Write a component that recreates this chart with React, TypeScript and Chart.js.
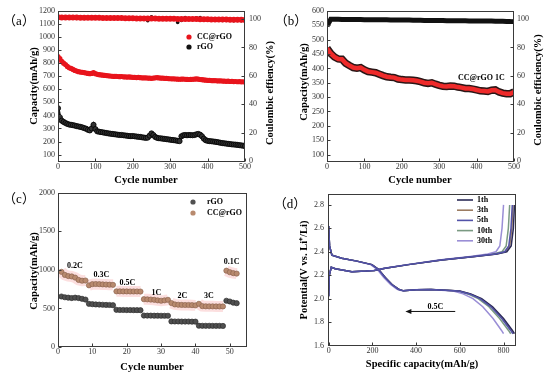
import React, { useEffect, useRef } from "react";
import { Chart, registerables } from "chart.js";
Chart.register(...registerables);

const SERIF = "'Liberation Serif', 'Times New Roman', serif";
const LABEL_FONT = "'Liberation Serif', 'Noto Sans CJK SC', serif";

// ---------- Panel (a): cycling of CC@rGO and rGO ----------
const aCycles = [0,5,10,15,20,25,30,35,40,45,50,55,60,65,70,75,80,85,90,95,100,105,110,115,120,125,130,135,140,145,150,155,160,165,170,175,180,185,190,195,200,205,210,215,220,225,230,235,240,245,250,255,260,265,270,275,280,285,290,295,300,305,310,315,320,325,330,335,340,345,350,355,360,365,370,375,380,385,390,395,400,405,410,415,420,425,430,435,440,445,450,455,460,465,470,475,480,485,490,495,500];
const aCcCapacity = [850,835,815,800,790,775,765,760,752,745,740,735,732,730,728,725,722,720,722,728,720,715,712,710,708,706,705,703,702,700,699,700,698,697,698,696,695,694,695,693,692,691,690,691,689,688,687,688,686,685,684,686,688,690,687,686,685,684,683,682,681,680,680,679,678,677,678,679,677,676,675,676,677,678,680,678,675,674,672,670,669,668,667,666,667,665,664,665,663,662,661,662,660,661,659,660,658,659,657,658,656];
const aRgoCapacity = [455,385,360,350,342,335,330,328,325,322,318,315,312,308,303,298,290,285,300,328,295,278,275,272,270,267,265,262,260,258,256,254,252,250,250,248,246,244,242,241,242,240,238,236,235,232,230,228,230,245,262,250,235,228,225,224,222,220,218,216,214,212,210,208,205,203,240,248,250,248,250,249,248,250,255,258,252,240,222,210,205,203,202,200,198,196,193,190,188,186,184,182,180,178,177,176,174,172,170,168,165];
const aCeCycles = [0,10,20,30,40,50,60,70,80,90,100,110,120,130,140,150,160,170,180,190,200,210,220,230,240,250,260,270,280,290,300,310,320,330,340,350,360,370,380,390,400,410,420,430,440,450,460,470,480,490,500];
const aCcEfficiency = [101.2,101.1,101.1,101.0,101.0,101.0,100.9,100.9,100.9,100.8,100.8,100.8,100.7,100.7,100.7,100.6,100.6,100.6,100.5,100.5,100.5,100.4,100.4,100.4,100.3,100.3,100.3,100.2,100.2,100.2,100.1,100.1,100.0,100.0,100.0,99.9,99.9,99.9,99.8,99.8,99.8,99.7,99.7,99.7,99.6,99.6,99.5,99.5,99.4,99.4,99.3];
const aRgoEfficiency = [100.8,100.5,100.6,100.5,100.6,100.4,100.5,100.4,100.5,101.6,100.5,100.4,100.5,100.4,100.4,100.3,100.4,100.3,100.3,100.2,100.3,100.2,100.2,100.1,98.8,101.6,100.1,100.0,100.0,99.9,99.9,99.8,97.6,99.0,101.0,99.8,99.7,100.9,101.0,99.6,99.4,99.3,99.3,99.2,99.0,99.0,98.9,98.8,98.9,98.8,98.9];

// ---------- Panel (b): CC@rGO at 1C ----------
const bCycles = [0,10,20,30,40,50,60,70,80,90,100,110,120,130,140,150,160,170,180,190,200,210,220,230,240,250,260,270,280,290,300,310,320,330,340,350,360,370,380,390,400,410,420,430,440,450,460,470,480,490,500];
const bCapacity = [470,452,440,433,432,418,410,403,401,403,395,389,387,385,380,375,371,369,368,363,361,360,360,359,357,354,350,348,350,345,341,338,337,339,338,335,333,330,330,328,325,322,321,320,324,325,318,314,312,312,318];
const bEfficiency = [95.0,99.8,99.8,99.8,99.7,99.7,99.7,99.6,99.6,99.6,99.5,99.5,99.5,99.5,99.4,99.4,99.4,99.3,99.3,99.3,99.2,99.2,99.2,99.1,99.1,99.1,99.0,99.0,99.0,98.9,98.9,98.9,98.8,98.8,98.8,98.7,98.7,98.7,98.6,98.6,98.6,98.5,98.5,98.5,98.5,98.4,98.4,98.4,98.3,98.3,98.3];

// ---------- Panel (c): rate capability ----------
const cCycles = [1,2,3,4,5,6,7,8,9,10,11,12,13,14,15,16,17,18,19,20,21,22,23,24,25,26,27,28,29,30,31,32,33,34,35,36,37,38,39,40,41,42,43,44,45,46,47,48,49,50,51,52];
const cRgo = [655,645,640,635,640,635,625,615,560,555,552,550,548,546,545,542,482,480,480,479,479,478,478,477,408,407,407,406,406,405,405,405,332,331,331,330,330,330,329,329,276,275,275,275,274,274,274,273,600,590,575,568];
const cCc = [975,935,920,915,900,870,860,862,800,815,817,815,812,810,808,806,722,722,721,721,720,720,720,719,620,618,615,612,605,600,605,612,570,552,548,546,545,545,543,540,560,530,528,527,527,526,526,526,990,970,958,952];
const cRateLabels = ["0.2C", "0.3C", "0.5C", "1C", "2C", "3C", "0.1C"];
const cRateX = [4.9, 12.6, 20.2, 28.6, 36.2, 43.9, 50.5];
const cRateY = [1054, 934, 831, 702, 667, 667, 1106];

// ---------- Panel (d): charge / discharge profiles ----------
const dCycleLabels = ["1th", "3th", "5th", "10th", "30th"];
const dDischargeV = [2.62,2.45,2.37,2.345,2.32,2.29,2.25,2.18,2.12,2.08,2.066,2.075,2.078,2.07,2.064,2.04,2.0,1.93,1.83,1.73,1.70];
const dDischarge1 = [0,4,15,60,130,198,228,259,290,320,343,400,470,560,600,650,700,750,800,840,850];
const dDischarge3 = [0,4,15,60,130,198,228,259,290,320,343,400,470,558,597,646,695,745,795,835,846];
const dDischarge5 = [0,4,15,60,130,197,227,258,289,319,342,400,468,555,594,643,692,742,792,832,843];
const dDischarge10 = [0,4,15,60,128,196,226,257,288,318,341,398,465,550,588,636,684,733,782,822,833];
const dDischarge30 = [0,4,14,58,125,192,222,252,283,313,336,390,455,535,570,615,660,705,752,790,800];
const dChargeV = [2.02,2.2,2.267,2.255,2.23,2.235,2.24,2.26,2.29,2.33,2.36,2.38,2.40,2.45,2.6,2.8];
const dCharge1 = [0,3,12,30,107,170,210,259,366,518,670,770,815,835,845,850];
const dCharge3 = [0,3,12,30,107,170,210,259,366,518,668,766,808,828,838,843];
const dCharge5 = [0,3,12,30,106,169,209,258,364,516,666,763,805,824,834,840];
const dCharge10 = [0,3,12,30,105,168,208,257,362,512,660,750,793,812,822,828];
const dCharge30 = [0,3,12,30,104,166,205,253,358,505,648,728,765,783,793,800];
const dColors = ["#2c2c58", "#9c7c62", "#5252a8", "#7a9a82", "#9a8ed6"];
const dArrowFrom = 579;
const dArrowTo = 351;
const dArrowV = 1.89;

// ---------- helpers ----------
const pts = (xs: number[], ys: number[]) => xs.map((x, i) => ({ x, y: ys[i] }));

function text(ctx: CanvasRenderingContext2D, s: string, x: number, y: number, size: number, bold: boolean, align: CanvasTextAlign = "left", rot = 0, family = SERIF, color = "#000") {
  ctx.save();
  ctx.translate(x, y);
  if (rot) ctx.rotate(rot);
  ctx.font = `${bold ? "bold " : ""}${size}px ${family}`;
  ctx.fillStyle = color;
  ctx.textAlign = align;
  ctx.textBaseline = "middle";
  ctx.fillText(s, 0, 0);
  ctx.restore();
}

function dot(ctx: CanvasRenderingContext2D, x: number, y: number, r: number, fill: string) {
  ctx.beginPath();
  ctx.arc(x, y, r, 0, Math.PI * 2);
  ctx.fillStyle = fill;
  ctx.fill();
}

type Deco = (ctx: CanvasRenderingContext2D, chart: any, ox: number, oy: number) => void;

function framePlugin(ox: number, oy: number, deco: Deco) {
  return {
    id: "frame",
    afterDraw(chart: any) {
      const { ctx, chartArea: a } = chart;
      ctx.save();
      ctx.strokeStyle = "#3a3a3a";
      ctx.lineWidth = 1;
      const L = Math.round(a.left) + 0.5, R = Math.round(a.right) - 0.5;
      const T = Math.round(a.top) + 0.5, B = Math.round(a.bottom) - 0.5;
      ctx.strokeRect(L, T, R - L, B - T);
      Object.values(chart.scales).forEach((s: any) => {
        s.ticks.forEach((t: any) => {
          const p = Math.round(s.getPixelForValue(t.value)) + 0.5;
          ctx.beginPath();
          if (s.axis === "x") { ctx.moveTo(p, B); ctx.lineTo(p, B - 3); }
          else if (s.position === "left") { ctx.moveTo(L, p); ctx.lineTo(L + 3, p); }
          else { ctx.moveTo(R, p); ctx.lineTo(R - 3, p); }
          ctx.stroke();
        });
      });
      ctx.translate(-ox, -oy);
      deco(ctx, chart, ox, oy);
      ctx.restore();
    },
  };
}

function lin(min: number, max: number, step: number, position: string, size: number, padding: number, fmt: (v: number) => string = (v) => String(v)) {
  const horiz = position === "bottom";
  return {
    type: "linear",
    position,
    min,
    max,
    grid: { display: false, drawTicks: false },
    border: { display: false },
    title: { display: false },
    ticks: {
      stepSize: step,
      includeBounds: false,
      autoSkip: false,
      maxRotation: 0,
      padding,
      color: "#333",
      font: { size: 8, family: SERIF },
      callback: (v: number) => fmt(v),
    },
    afterFit: (s: any) => {
      if (horiz) s.height = size;
      else s.width = size;
    },
  };
}

function baseOptions(scales: any, padding: any) {
  return {
    responsive: false,
    maintainAspectRatio: false,
    animation: false,
    events: [],
    layout: { padding },
    plugins: { legend: { display: false }, tooltip: { enabled: false } },
    elements: { line: { tension: 0 } },
    scales,
  };
}

const TITLE = 10.5;
const HALF_PI = Math.PI / 2;

// ---------- chart configs ----------
function configA(): any {
  const ox = 0, oy = 0;
  return {
    type: "line",
    data: {
      datasets: [
        { data: pts(aCycles, aCcCapacity), yAxisID: "y", borderColor: "#e8141c", backgroundColor: "#e8141c", borderWidth: 3, pointRadius: 2.6, pointBorderWidth: 0 },
        { data: pts(aCycles, aRgoCapacity), yAxisID: "y", borderColor: "#111", backgroundColor: "#333", borderWidth: 3, pointRadius: 2.6, pointBorderWidth: 0.8, pointBorderColor: "#000" },
        { data: pts(aCeCycles, aCcEfficiency), yAxisID: "y1", borderColor: "#e8141c", backgroundColor: "#e8141c", borderWidth: 4, pointRadius: 3, pointBorderWidth: 0 },
        { data: pts(aCeCycles, aRgoEfficiency), yAxisID: "y1", showLine: false, backgroundColor: "#111", borderColor: "#111", pointRadius: 1.8, pointBorderWidth: 0 },
      ],
    },
    options: baseOptions(
      {
        x: lin(0, 500, 100, "bottom", 28, 0),
        y: lin(43, 1200, 100, "left", 58, 3),
        y1: lin(-0.5, 105.6, 20, "right", 32, 4),
      },
      { top: 11, left: 0, right: 0, bottom: 0 }
    ),
    plugins: [
      framePlugin(ox, oy, (ctx) => {
        text(ctx, "（a）", 19, 22, 13, false, "center", 0, LABEL_FONT);
        text(ctx, "Capacity(mAh/g)", 34, 86, TITLE, true, "center", -HALF_PI);
        text(ctx, "Coulombic effiency(%)", 270, 93, TITLE, true, "center", -HALF_PI);
        text(ctx, "Cycle number", 146, 180, TITLE, true, "center");
        dot(ctx, 189, 37, 2.6, "#e8141c");
        text(ctx, "CC@rGO", 197, 37, 8, true);
        dot(ctx, 189, 47, 2.6, "#111");
        text(ctx, "rGO", 197, 47, 8, true);
      }),
    ],
  };
}

function configB(): any {
  const ox = 275, oy = 0;
  return {
    type: "line",
    data: {
      datasets: [
        { data: pts(bCycles, bCapacity), yAxisID: "y", borderColor: "#ee2a2a", borderWidth: 4.5, pointRadius: 0 },
        { data: pts(bCycles, bCapacity), yAxisID: "y", borderColor: "#2a1616", borderWidth: 7.5, pointRadius: 0 },
        { data: pts(bCycles, bEfficiency), yAxisID: "y1", borderColor: "#111", borderWidth: 5, pointRadius: 0 },
      ],
    },
    options: baseOptions(
      {
        x: lin(0, 500, 100, "bottom", 28, 0),
        y: lin(74, 600, 50, "left", 52, 3),
        y1: lin(-0.5, 105.6, 20, "right", 36, 3),
      },
      { top: 11, left: 0, right: 0, bottom: 0 }
    ),
    plugins: [
      framePlugin(ox, oy, (ctx) => {
        text(ctx, "（b）", 291, 22, 13, false, "center", 0, LABEL_FONT);
        text(ctx, "Capacity(mAh/g)", 304, 82, TITLE, true, "center", -HALF_PI);
        text(ctx, "Coulombic efficiency(%)", 538, 90, TITLE, true, "center", -HALF_PI);
        text(ctx, "Cycle number", 420, 180, TITLE, true, "center");
        text(ctx, "CC@rGO 1C", 458, 78, 8, true);
      }),
    ],
  };
}

function configC(): any {
  const ox = 0, oy = 185;
  const pink = "rgba(248,170,170,0.38)";
  return {
    type: "line",
    data: {
      datasets: [
        { data: pts(cCycles, cRgo), showLine: false, pointRadius: 2.6, backgroundColor: "#505050", borderColor: "#2e2e2e", pointBorderWidth: 0.7 },
        { data: pts(cCycles, cCc), showLine: false, pointRadius: 2.6, backgroundColor: "#b88a6e", borderColor: "#8e6450", pointBorderWidth: 0.7 },
        {
          data: pts(cCycles, cCc), pointRadius: 0, borderWidth: 11, borderColor: pink,
          segment: { borderColor: (c: any) => (c.p1DataIndex % 8 === 0 ? "rgba(0,0,0,0)" : pink) },
        },
      ],
    },
    options: baseOptions(
      {
        x: lin(0, 55, 10, "bottom", 31, 0),
        y: lin(0, 2000, 500, "left", 58, 3),
      },
      { top: 7, left: 0, right: 28, bottom: 0 }
    ),
    plugins: [
      framePlugin(ox, oy, (ctx, chart) => {
        text(ctx, "（c）", 19, 200, 13, false, "center", 0, LABEL_FONT);
        text(ctx, "Capacity(mAh/g)", 34, 271, TITLE, true, "center", -HALF_PI);
        text(ctx, "Cycle number", 152, 367, TITLE, true, "center");
        dot(ctx, 193, 202, 2.6, "#505050");
        text(ctx, "rGO", 207, 202, 8, true);
        dot(ctx, 193, 213, 2.6, "#b88a6e");
        text(ctx, "CC@rGO", 207, 213, 8, true);
        const sx = chart.scales.x, sy = chart.scales.y;
        cRateLabels.forEach((lab, i) => {
          text(ctx, lab, sx.getPixelForValue(cRateX[i]) + ox, sy.getPixelForValue(cRateY[i]) + oy, 8, true, "center");
        });
      }),
    ],
  };
}

function configD(): any {
  const ox = 275, oy = 185;
  const dis = [dDischarge1, dDischarge3, dDischarge5, dDischarge10, dDischarge30];
  const chg = [dCharge1, dCharge3, dCharge5, dCharge10, dCharge30];
  const drawOrder = [2, 0, 4, 3, 1];
  const datasets: any[] = [];
  drawOrder.forEach((k) => {
    datasets.push({ data: pts(dis[k], dDischargeV), borderColor: dColors[k], borderWidth: 1.5, pointRadius: 0 });
    datasets.push({ data: pts(chg[k], dChargeV), borderColor: dColors[k], borderWidth: 1.5, pointRadius: 0 });
  });
  return {
    type: "line",
    data: { datasets },
    options: baseOptions(
      {
        x: lin(-3, 857, 200, "bottom", 32, 0),
        y: lin(1.595, 2.895, 0.2, "left", 53, 4, (v) => v.toFixed(1)),
      },
      { top: 6, left: 0, right: 34, bottom: 0 }
    ),
    plugins: [
      framePlugin(ox, oy, (ctx, chart) => {
        text(ctx, "（d）", 290, 205, 13, false, "center", 0, LABEL_FONT);
        text(ctx, "Potential(V vs. Li⁺/Li)", 304, 270, TITLE, true, "center", -HALF_PI);
        text(ctx, "Specific capacity(mAh/g)", 422, 364, TITLE, true, "center");
        dCycleLabels.forEach((lab, i) => {
          const y = 200 + i * 10.2;
          ctx.strokeStyle = dColors[i];
          ctx.lineWidth = 1.6;
          ctx.beginPath();
          ctx.moveTo(457, y);
          ctx.lineTo(473, y);
          ctx.stroke();
          text(ctx, lab, 477, y, 8, true);
        });
        const sx = chart.scales.x, sy = chart.scales.y;
        const x1 = sx.getPixelForValue(dArrowFrom) + ox;
        const x2 = sx.getPixelForValue(dArrowTo) + ox;
        const y = sy.getPixelForValue(dArrowV) + oy;
        ctx.strokeStyle = "#111";
        ctx.fillStyle = "#111";
        ctx.lineWidth = 1;
        ctx.beginPath();
        ctx.moveTo(x1, y);
        ctx.lineTo(x2 + 4, y);
        ctx.stroke();
        ctx.beginPath();
        ctx.moveTo(x2, y);
        ctx.lineTo(x2 + 6, y - 2.5);
        ctx.lineTo(x2 + 6, y + 2.5);
        ctx.closePath();
        ctx.fill();
        text(ctx, "0.5C", (x1 + x2) / 2 + 5, y - 5, 8, true, "center");
      }),
    ],
  };
}

function Panel({ left, top, width, height, make }: { left: number; top: number; width: number; height: number; make: () => any }) {
  const ref = useRef<HTMLCanvasElement | null>(null);
  useEffect(() => {
    if (!ref.current) return;
    const chart = new Chart(ref.current, make());
    let alive = true;
    const fonts: any = (document as any).fonts;
    if (fonts && fonts.load) {
      Promise.all([
        fonts.load("8px 'Liberation Serif'"),
        fonts.load("bold 10px 'Liberation Serif'"),
        fonts.load("13px 'Noto Sans CJK SC'", "（）"),
      ])
        .catch(() => null)
        .then(() => { if (alive) chart.update(); });
    }
    return () => { alive = false; chart.destroy(); };
  }, []);
  return (
    <canvas
      ref={ref}
      width={width}
      height={height}
      style={{ position: "absolute", left, top, width, height }}
    />
  );
}

export default function App() {
  return (
    <div style={{ position: "fixed", left: 0, top: 0, width: 550, height: 378, background: "#fff", overflow: "hidden" }}>
      <span style={{ position: "absolute", left: -999, top: -999, fontFamily: "'Liberation Serif'", fontSize: 8 }}>Aa <b>Bb</b></span>
      <Panel left={0} top={0} width={277} height={190} make={configA} />
      <Panel left={275} top={0} width={275} height={190} make={configB} />
      <Panel left={0} top={185} width={275} height={193} make={configC} />
      <Panel left={275} top={185} width={275} height={193} make={configD} />
    </div>
  );
}
